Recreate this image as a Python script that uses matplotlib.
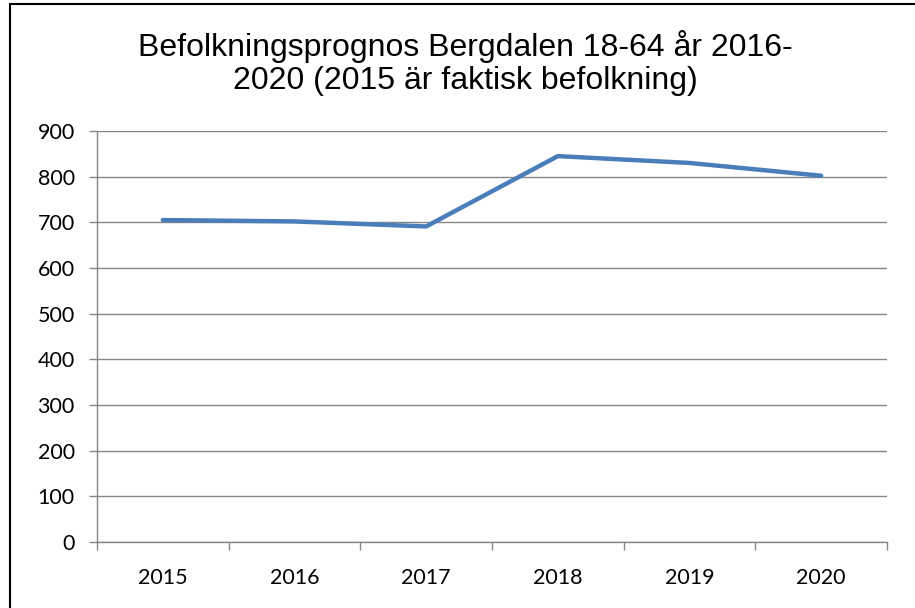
import matplotlib
matplotlib.use("Agg")
import matplotlib.pyplot as plt
from matplotlib.patches import Rectangle

years = ["2015", "2016", "2017", "2018", "2019", "2020"]
population = [705, 702, 691, 845, 830, 802]
yticks = [0, 100, 200, 300, 400, 500, 600, 700, 800, 900]

plt.rcParams['font.family'] = ['Lato', 'DejaVu Sans']

fig = plt.figure(figsize=(9.15, 6.08), dpi=100)
ax = fig.add_axes([97/915, 66/608, 790/915, 411/608])

x = list(range(len(years)))
ax.plot(x, population, color="#4A7EBB", linewidth=3.2, solid_capstyle="round", solid_joinstyle="miter", zorder=3)

ax.set_xlim(-0.5, len(years) - 0.5)
ax.set_ylim(0, 900)
ax.set_yticks(yticks)
ax.set_yticklabels([str(v) for v in yticks], fontsize=15.5)
ax.set_xticks(x)
ax.set_xticklabels(years, fontsize=15.5)
ax.set_xticks([i - 0.5 for i in range(len(years) + 1)], minor=True)
ax.tick_params(axis="x", which="major", length=0, pad=19)
ax.tick_params(axis="x", which="minor", length=6, color="#868686", width=1)
ax.tick_params(axis="y", length=6, color="#868686", width=1, pad=10)

ax.grid(axis="y", color="#868686", linewidth=1)
ax.set_axisbelow(True)
for s in ["top", "right"]:
    ax.spines[s].set_visible(False)
for s in ["left", "bottom"]:
    ax.spines[s].set_color("#868686")
    ax.spines[s].set_linewidth(1)

fig.text(465/915, 1 - 63/608, "Befolkningsprognos Bergdalen 18-64 år 2016-\n2020 (2015 är faktisk befolkning)",
         ha="center", va="center", fontsize=23, linespacing=1.16, family=['Liberation Sans', 'DejaVu Sans'])

fig.patches.append(Rectangle((10/915, -0.05), 1.0, 1 - 4/608 + 0.05, transform=fig.transFigure,
                             fill=False, edgecolor="black", linewidth=1.5))

fig.savefig("out.png", dpi=100)
